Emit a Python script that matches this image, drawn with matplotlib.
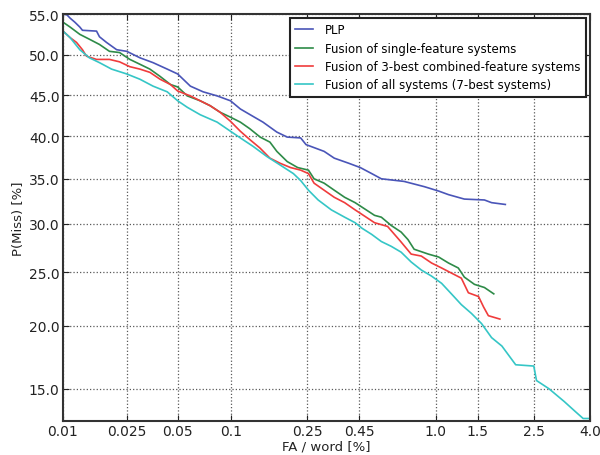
import numpy as np
import matplotlib
matplotlib.use('Agg')
import matplotlib.pyplot as plt
from matplotlib.ticker import FixedLocator, FixedFormatter, NullLocator
from statistics import NormalDist

# DET curves, values (FA / word [%], P(Miss) [%])
plp_fa = [0.0100, 0.0106, 0.0111, 0.0119, 0.0128, 0.0133, 0.0163, 0.0170, 0.0188, 0.0217,
          0.0250, 0.0300, 0.0359, 0.0435, 0.0500, 0.0591, 0.0698, 0.0836, 0.099, 0.112,
          0.131, 0.148, 0.175, 0.198, 0.232, 0.247, 0.304, 0.341, 0.401, 0.455,
          0.515, 0.571, 0.725, 0.892, 1.03, 1.134, 1.323, 1.60, 1.71, 1.94]
plp_miss = [55.0, 54.9, 54.5, 54.0, 53.4, 53.0, 52.9, 52.2, 51.5, 50.6,
            50.4, 49.6, 49.0, 48.2, 47.6, 46.1, 45.4, 44.9, 44.3, 43.3,
            42.4, 41.7, 40.5, 39.9, 39.8, 39.0, 38.2, 37.4, 36.8, 36.3,
            35.6, 35.0, 34.7, 34.1, 33.6, 33.2, 32.7, 32.6, 32.3, 32.1]

single_fa = [0.0100, 0.0111, 0.0128, 0.0147, 0.0170, 0.0196, 0.0226, 0.0261, 0.0300, 0.0344,
             0.0395, 0.0454, 0.0500, 0.0568, 0.0672, 0.0764, 0.0868, 0.099, 0.112, 0.126,
             0.143, 0.161, 0.175, 0.198, 0.224, 0.254, 0.271, 0.304, 0.341, 0.383,
             0.430, 0.478, 0.531, 0.571, 0.634, 0.703, 0.755, 0.804, 0.929, 1.03,
             1.134, 1.248, 1.323, 1.457, 1.60, 1.745]
single_miss = [54.0, 53.4, 52.5, 51.9, 51.25, 50.4, 50.25, 49.4, 48.8, 48.2,
               47.3, 46.3, 46.0, 44.9, 44.3, 43.7, 42.9, 42.3, 41.7, 40.9,
               39.9, 39.3, 38.2, 37.0, 36.3, 36.0, 35.0, 34.5, 33.7, 32.9,
               32.3, 31.6, 30.9, 30.7, 29.8, 29.1, 28.3, 27.3, 26.8, 26.5,
               25.9, 25.4, 24.5, 23.8, 23.5, 22.9]

best3_fa = [0.0100, 0.0111, 0.0122, 0.0133, 0.0141, 0.0163, 0.0196, 0.0226, 0.0261, 0.0300,
            0.0344, 0.0395, 0.0454, 0.0500, 0.0591, 0.0672, 0.0764, 0.0868, 0.099, 0.112,
            0.126, 0.1426, 0.161, 0.182, 0.206, 0.232, 0.254, 0.271, 0.304, 0.341,
            0.383, 0.430, 0.478, 0.531, 0.61, 0.70, 0.780, 0.865, 0.959, 1.06,
            1.167, 1.285, 1.375, 1.514, 1.586, 1.66, 1.846]
best3_miss = [52.9, 52.1, 51.5, 50.6, 49.8, 49.4, 49.4, 49.1, 48.5, 48.2,
              47.8, 46.95, 46.3, 45.5, 44.9, 44.3, 43.7, 42.9, 41.8, 40.6,
              39.6, 38.6, 37.4, 36.8, 36.3, 36.0, 35.6, 34.5, 33.7, 32.9,
              32.3, 31.5, 30.8, 30.1, 29.7, 28.1, 26.8, 26.6, 25.9, 25.4,
              24.9, 24.4, 23.0, 22.65, 21.7, 20.9, 20.6]

all_fa = [0.0100, 0.0111, 0.0128, 0.0147, 0.0170, 0.0202, 0.0250, 0.0300, 0.0359, 0.0435,
          0.0500, 0.0568, 0.0672, 0.0836, 0.099, 0.112, 0.131, 0.155, 0.182, 0.213,
          0.232, 0.254, 0.284, 0.33, 0.383, 0.43, 0.464, 0.515, 0.571, 0.634,
          0.703, 0.780, 0.865, 0.959, 1.06, 1.167, 1.285, 1.416, 1.558, 1.71,
          1.88, 2.13, 2.5, 2.56, 2.85, 3.24, 3.56, 3.79, 4.0]
all_miss = [52.9, 52.1, 50.6, 49.6, 49.0, 48.2, 47.6, 46.95, 46.1, 45.4,
            44.3, 43.5, 42.6, 41.7, 40.6, 39.8, 38.8, 37.6, 36.6, 35.6,
            34.8, 33.7, 32.6, 31.5, 30.7, 30.1, 29.5, 28.85, 28.1, 27.6,
            27.0, 26.0, 25.2, 24.6, 23.9, 22.9, 21.9, 21.1, 20.2, 19.0,
            18.3, 16.8, 16.7, 15.6, 15.0, 14.1, 13.4, 12.95, 12.95]

labels = ['PLP', 'Fusion of single-feature systems',
          'Fusion of 3-best combined-feature systems',
          'Fusion of all systems (7-best systems)']
colors = ['#4a55b8', '#2e8b48', '#f03c3c', '#35c6c6']

xticks = [0.01, 0.025, 0.05, 0.1, 0.25, 0.45, 1.0, 1.5, 2.5, 4.0]
xticklabels = ['0.01', '0.025', '0.05', '0.1', '0.25', '0.45', '1.0', '1.5', '2.5', '4.0']
yticks = [15, 20, 25, 30, 35, 40, 45, 50, 55]
yticklabels = ['%.1f' % v for v in yticks]

_nd = NormalDist()


def probit(v):
    # percent -> normal deviate
    v = np.asarray(v, dtype=float)
    p = np.clip(v / 100.0, 1e-9, 1 - 1e-9)
    bad = ~np.isfinite(p)
    p = np.where(bad, 0.5, p)
    out = np.array([_nd.inv_cdf(x) for x in p.ravel()], dtype=float).reshape(p.shape)
    return np.where(bad, np.nan, out)


def inv_probit(z):
    z = np.asarray(z, dtype=float)
    bad = ~np.isfinite(z)
    zz = np.where(bad, 0.0, z)
    out = np.array([_nd.cdf(x) for x in zz.ravel()], dtype=float).reshape(zz.shape) * 100
    return np.where(bad, np.nan, out)


fig = plt.figure(figsize=(6.0, 4.56), dpi=100)
ax = fig.add_axes([0.105, 0.075, 0.878, 0.892])
ax.set_xscale('function', functions=(probit, inv_probit))
ax.set_yscale('function', functions=(probit, inv_probit))

series = [(plp_fa, plp_miss), (single_fa, single_miss),
          (best3_fa, best3_miss), (all_fa, all_miss)]
for (fa, miss), lab, col in zip(series, labels, colors):
    ax.plot(fa, miss, color=col, lw=1.2, label=lab)

ax.set_xlim(0.01, 4.0)
ax.set_ylim(12.8, 55.0)
ax.xaxis.set_major_locator(FixedLocator(xticks))
ax.xaxis.set_major_formatter(FixedFormatter(xticklabels))
ax.xaxis.set_minor_locator(NullLocator())
ax.yaxis.set_major_locator(FixedLocator(yticks))
ax.yaxis.set_major_formatter(FixedFormatter(yticklabels))
ax.yaxis.set_minor_locator(NullLocator())

ax.grid(True, color='0.35', linestyle=':', linewidth=0.9)
ax.tick_params(direction='in', top=True, right=True, length=4, labelsize=10,
               colors='#222222', pad=2.5)
for s in ax.spines.values():
    s.set_linewidth(1.5)
    s.set_color('#333333')

ax.set_xlabel('FA / word [%]', fontsize=9.5, labelpad=1, color='#222222')
ax.set_ylabel('P(Miss) [%]', fontsize=9.5, labelpad=3, color='#222222')

leg = ax.legend(loc='upper right', fontsize=8.5, fancybox=False, handlelength=1.5,
                handletextpad=1.0, borderaxespad=0.35, labelspacing=0.45,
                borderpad=0.45, framealpha=1)
leg.get_frame().set_edgecolor('#222222')
leg.get_frame().set_linewidth(1.5)

fig.savefig('out.png', dpi=100)
